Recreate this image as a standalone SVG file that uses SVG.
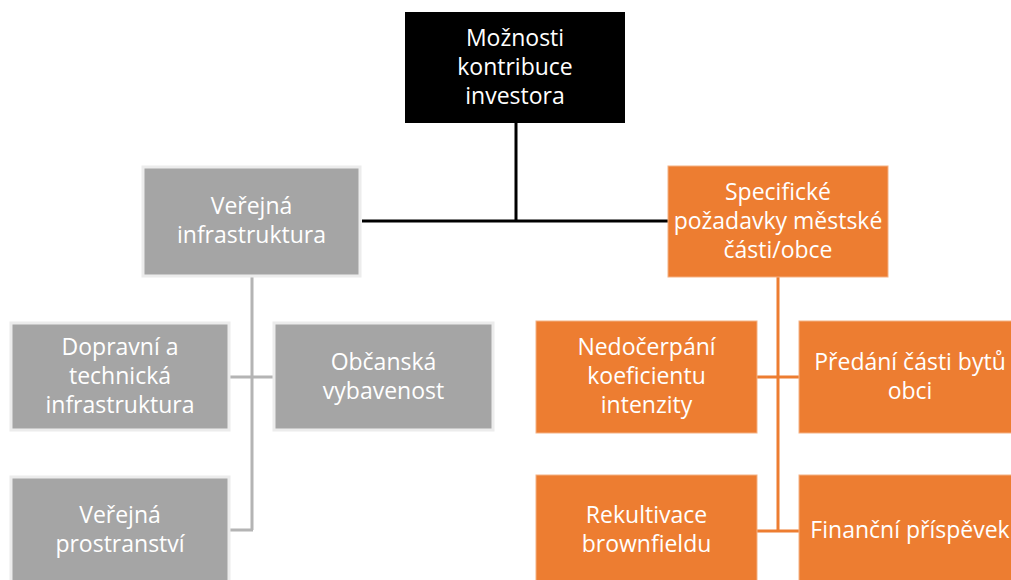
<svg xmlns="http://www.w3.org/2000/svg" width="1011" height="580" viewBox="0 0 1011 580">
<style>
.t{font-family:"Open Sans","Liberation Sans",Arial,sans-serif;font-size:23px;fill:#ffffff;text-anchor:middle}
.g{fill:#a5a5a5;stroke:#ececec;stroke-width:3}
.o{fill:#ed7d31;stroke:#f4b183;stroke-width:1}
.k{fill:#000000}
.cb{stroke:#000000;stroke-width:3;fill:none}
.cg{stroke:#b4b4b4;stroke-width:3;fill:none}
.co{stroke:#ed7d31;stroke-width:3;fill:none}
</style>
<rect width="1011" height="580" fill="#ffffff"/>
<g id="connectors">
<path class="cb" d="M516 123V221M362 221H668"/>
<path class="cg" d="M252 277V530M229 377H274M229 530H253"/>
<path class="co" d="M778 277V531M757 377H799M757 531H799"/>
</g>
<g id="n-root">
<rect class="k" x="405" y="12" width="220" height="111"/>
<text class="t" x="515" y="46">Možnosti</text>
<text class="t" x="515" y="75">kontribuce</text>
<text class="t" x="515" y="104">investora</text>
</g>
<g id="n-verejna-infra">
<rect class="g" x="143" y="167" width="217" height="109"/>
<text class="t" x="251.5" y="214">Veřejná</text>
<text class="t" x="251.5" y="243">infrastruktura</text>
</g>
<g id="n-specificke">
<rect class="o" x="668" y="166" width="220" height="111"/>
<text class="t" x="778" y="200">Specifické</text>
<text class="t" x="778" y="229">požadavky městské</text>
<text class="t" x="778" y="258">části/obce</text>
</g>
<g id="n-dopravni">
<rect class="g" x="11" y="323" width="218" height="107"/>
<text class="t" x="120" y="355">Dopravní a</text>
<text class="t" x="120" y="384">technická</text>
<text class="t" x="120" y="413">infrastruktura</text>
</g>
<g id="n-obcanska">
<rect class="g" x="274" y="323" width="219" height="107"/>
<text class="t" x="383.5" y="370">Občanská</text>
<text class="t" x="383.5" y="399">vybavenost</text>
</g>
<g id="n-verejna-prostranstvi">
<rect class="g" x="11" y="477" width="218" height="110"/>
<text class="t" x="120" y="523">Veřejná</text>
<text class="t" x="120" y="552">prostranství</text>
</g>
<g id="n-nedocerpani">
<rect class="o" x="536" y="321" width="221" height="112"/>
<text class="t" x="646.5" y="355">Nedočerpání</text>
<text class="t" x="646.5" y="384">koeficientu</text>
<text class="t" x="646.5" y="413">intenzity</text>
</g>
<g id="n-predani">
<rect class="o" x="799" y="321" width="222" height="112"/>
<text class="t" x="910" y="370">Předání části bytů</text>
<text class="t" x="910" y="399">obci</text>
</g>
<g id="n-rekultivace">
<rect class="o" x="536" y="475" width="221" height="112"/>
<text class="t" x="646.5" y="523">Rekultivace</text>
<text class="t" x="646.5" y="552">brownfieldu</text>
</g>
<g id="n-financni">
<rect class="o" x="799" y="475" width="222" height="112"/>
<text class="t" x="910" y="538">Finanční příspěvek</text>
</g>
</svg>
